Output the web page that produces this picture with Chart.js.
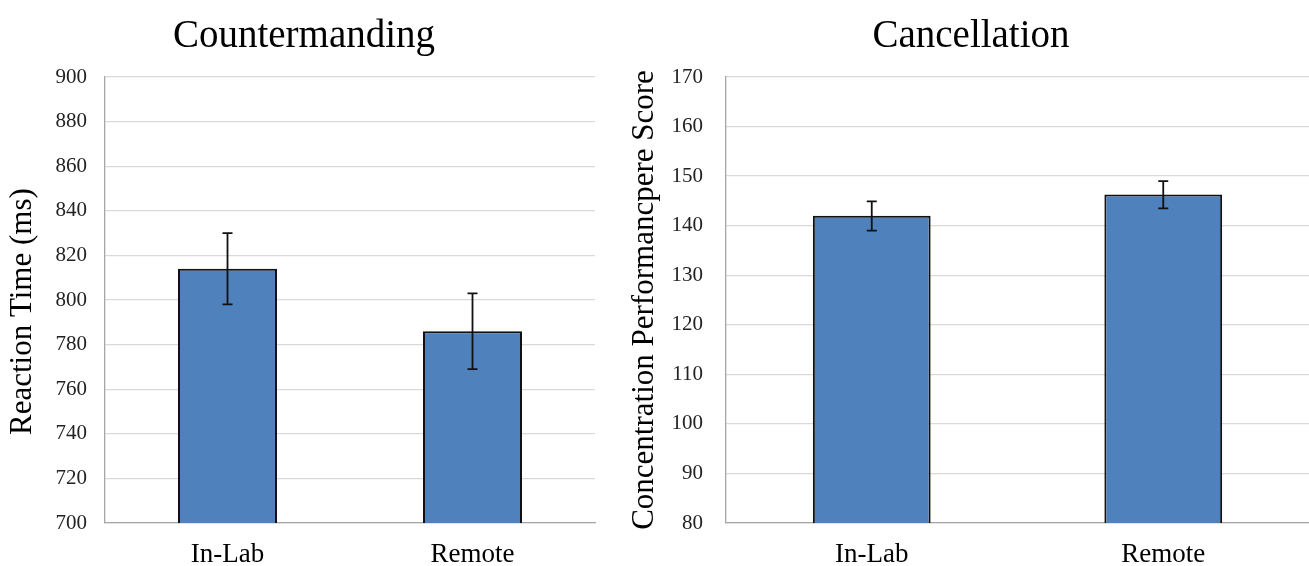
<!DOCTYPE html>
<html>
<head>
<meta charset="utf-8">
<script src="https://cdn.jsdelivr.net/npm/chart.js@4/dist/chart.umd.min.js"></script>
<style>
  body { margin: 0; background: #fff; }
  #wrap { position: relative; width: 1309px; height: 566px; }
  .box { position: absolute; top: 0; height: 566px; }
  .ttl { position: absolute; top: 14px; font: 39px/39px 'Liberation Serif', 'Times New Roman', serif;
         color: #000; white-space: nowrap; transform: translateX(-50%); }
</style>
</head>
<body>
<div id="wrap">
  <div class="box" style="left:0;width:600px"><canvas id="cmChart"></canvas></div>
  <div class="box" style="left:600px;width:709px"><canvas id="caChart"></canvas></div>
  <div class="ttl" style="left:304px">Countermanding</div>
  <div class="ttl" style="left:971px">Cancellation</div>
</div>
<script>
const groups = ["In-Lab", "Remote"];

// Countermanding (ms)
const cmMeans = [814, 786];
const cmLow = [798, 769];
const cmHigh = [830, 803];
const cmTicks = [700, 720, 740, 760, 780, 800, 820, 840, 860, 880, 900];

// Cancellation (score)
const caMeans = [142, 146.3];
const caLow = [139, 143.5];
const caHigh = [144.9, 149];
const caTicks = [80, 90, 100, 110, 120, 130, 140, 150, 160, 170];

const serif = "'Liberation Serif', 'Times New Roman', serif";

// dibuja barras de error usando la escala y
const errorBars = {
  id: "errorBars",
  afterDatasetsDraw(chart, args, opts) {
    const c = chart.ctx;
    const y = chart.scales.y;
    const bars = chart.getDatasetMeta(0).data;
    c.save();
    c.strokeStyle = "#111";
    c.lineWidth = 1.8;
    bars.forEach((bar, i) => {
      const top = y.getPixelForValue(opts.high[i]);
      const bot = y.getPixelForValue(opts.low[i]);
      c.beginPath();
      c.moveTo(bar.x, top); c.lineTo(bar.x, bot);
      c.moveTo(bar.x - 5, top); c.lineTo(bar.x + 5, top);
      c.moveTo(bar.x - 5, bot); c.lineTo(bar.x + 5, bot);
      c.stroke();
    });
    c.restore();
  }
};

function makeChart(id, yTitle, means, low, high, ticks, yWidth, padRight, tickPad, titlePad) {
  return new Chart(document.getElementById(id), {
    type: "bar",
    data: {
      labels: groups,
      datasets: [{
        data: means,
        backgroundColor: "#4f81bd",
        borderColor: "#111",
        borderWidth: 2,
        categoryPercentage: 1,
        barPercentage: 0.404
      }]
    },
    plugins: [errorBars],
    options: {
      responsive: true,
      maintainAspectRatio: false,
      animation: false,
      layout: { padding: { left: 0, right: padRight, top: 77, bottom: 0 } },
      plugins: {
        legend: { display: false },
        tooltip: { enabled: false },
        errorBars: { low, high }
      },
      scales: {
        x: {
          grid: { display: false, drawTicks: false },
          border: { color: "#a6a6a6", width: 1.3 },
          ticks: { color: "#000", font: { family: serif, size: 27 }, padding: 16 },
          afterFit: s => { s.height = 43; }
        },
        y: {
          min: ticks[0],
          max: ticks[ticks.length - 1],
          afterBuildTicks: s => { s.ticks = ticks.map(v => ({ value: v })); },
          grid: { color: "#d9d9d9", lineWidth: 1.3, drawTicks: false },
          border: { color: "#a6a6a6", width: 1.3 },
          ticks: { color: "#222", font: { family: serif, size: 21 }, padding: tickPad },
          title: {
            display: true,
            text: yTitle,
            color: "#000",
            font: { family: serif, size: 31 },
            padding: { top: titlePad, bottom: 0 }
          },
          afterFit: s => { s.width = yWidth; }
        }
      }
    }
  });
}

// espacios al final para bajar un poco el título del eje
makeChart("cmChart", "Reaction Time (ms)   ", cmMeans, cmLow, cmHigh, cmTicks, 105, 5, 18, 4);
makeChart("caChart", "Concentration Performancpere Score", caMeans, caLow, caHigh, caTicks, 126, 0, 23, 26);
</script>
</body>
</html>
